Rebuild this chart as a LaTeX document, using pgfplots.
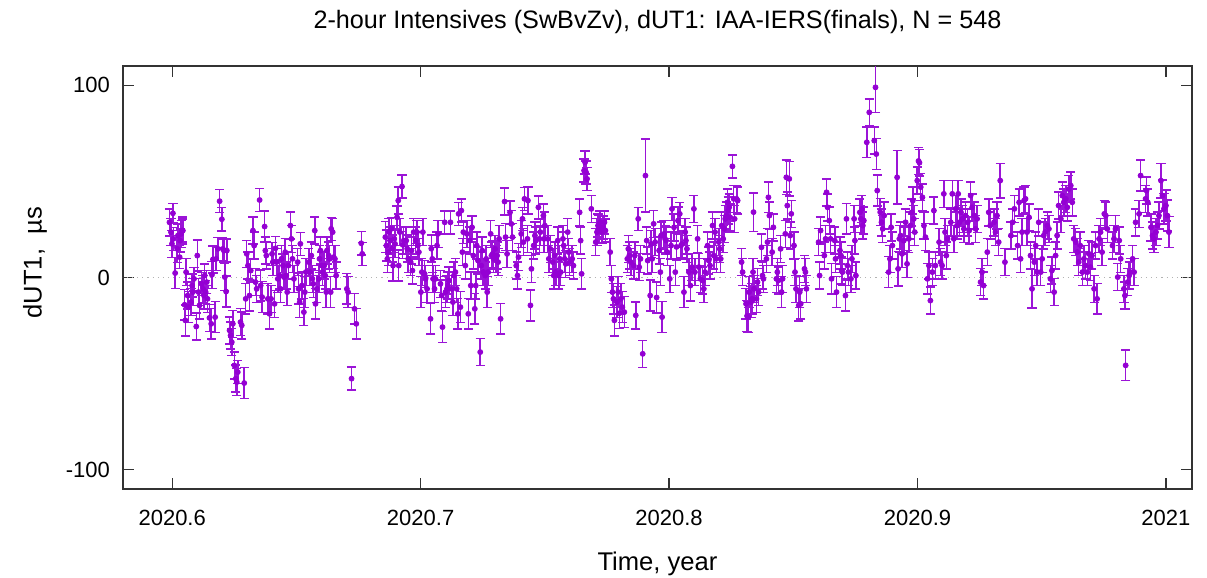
\documentclass[border=0pt]{standalone}
\usepackage{fontspec}
\setmainfont{Liberation Sans}
\usepackage{pgfplots}
\usepackage{pgfplotstable}
\pgfplotsset{compat=1.18}
\definecolor{dv}{RGB}{148,0,211}
\definecolor{dvb}{RGB}{155,20,215}

\pgfplotstableread{
x y e
2020.5989 28.7 7
2020.5995 23.6 7
2020.5999 17.5 7
2020.6003 33.4 5
2020.6005 20.1 6
2020.6012 2.3 8
2020.6020 14.9 7
2020.6023 21.8 6
2020.6030 10.6 6
2020.6032 19.2 6
2020.6036 22.7 7
2020.6040 24.4 6
2020.6043 24.4 7
2020.6050 -14.2 8
2020.6053 -22.3 8
2020.6056 2.8 7
2020.6062 -9.4 7
2020.6066 -15.4 8
2020.6076 -12.8 7
2020.6080 -4.2 6
2020.6083 -7.6 7
2020.6088 -0.7 6
2020.6097 -25.5 7
2020.6101 11.4 8
2020.6106 -7.6 7
2020.6110 -14.5 7
2020.6118 -3.3 6
2020.6124 -5.9 7
2020.6128 -9.4 7
2020.6131 1.0 6
2020.6135 -7.6 6
2020.6139 -2.4 6
2020.6142 -11.1 7
2020.6150 -21.0 7
2020.6157 -24.1 8
2020.6160 1.4 7
2020.6164 9.4 7
2020.6173 -20.6 8
2020.6177 9.7 6
2020.6184 14.9 6
2020.6191 39.7 6
2020.6200 30.3 6
2020.6204 14.9 6
2020.6208 14.0 6
2020.6212 0.2 7
2020.6217 -7.3 8
2020.6220 14.0 6
2020.6231 -27.5 7
2020.6235 -30.1 7
2020.6240 -33.6 7
2020.6244 -24.1 7
2020.6250 -45.7 7
2020.6256 -52.6 7
2020.6260 -54.4 7
2020.6264 -49.2 6
2020.6275 -23.2 7
2020.6280 -24.9 7
2020.6290 -54.9 8
2020.6296 -11.1 8
2020.6300 12.3 7
2020.6305 6.2 7
2020.6311 -9.4 8
2020.6316 3.6 6
2020.6325 24.4 7
2020.6330 16.6 7
2020.6335 -2.4 7
2020.6340 -5.9 7
2020.6352 40.3 6
2020.6356 -4.2 8
2020.6362 -10.2 8
2020.6372 26.5 8
2020.6375 14.0 7
2020.6379 11.4 7
2020.6385 -11.1 8
2020.6392 -18.9 8
2020.6398 -11.1 7
2020.6402 12.3 6
2020.6405 8.0 7
2020.6412 -13.7 7
2020.6416 15.2 6
2020.6420 8.0 7
2020.6425 -0.7 7
2020.6432 1.0 7
2020.6436 -5.9 7
2020.6440 9.7 7
2020.6446 6.2 6
2020.6450 0.2 6
2020.6455 13.2 7
2020.6459 1.0 7
2020.6463 -7.6 7
2020.6468 6.2 7
2020.6476 27.0 7
2020.6480 20.1 7
2020.6484 9.7 7
2020.6490 -0.7 7
2020.6505 8.0 7
2020.6509 -5.9 8
2020.6513 -12.8 8
2020.6516 17.5 6
2020.6522 -4.2 7
2020.6530 -18.0 7
2020.6534 -7.6 8
2020.6538 2.8 7
2020.6550 8.0 7
2020.6555 2.8 7
2020.6560 11.4 7
2020.6564 -0.7 7
2020.6568 -3.3 7
2020.6574 24.4 7
2020.6577 -13.7 8
2020.6582 -5.9 7
2020.6590 -0.7 7
2020.6593 9.7 7
2020.6597 14.0 7
2020.6602 6.2 7
2020.6605 2.8 7
2020.6612 6.2 7
2020.6616 1.0 7
2020.6620 -7.6 8
2020.6623 14.0 7
2020.6630 11.4 7
2020.6634 9.7 7
2020.6638 -7.6 8
2020.6640 25.3 6
2020.6646 23.6 7
2020.6650 10.6 6
2020.6655 9.7 7
2020.6660 1.0 7
2020.6703 -5.9 8
2020.6708 -7.6 8
2020.6722 -52.6 6
2020.6734 -16.3 8
2020.6741 -24.1 8
2020.6761 17.8 6
2020.6765 12.3 6
2020.6858 21.0 8
2020.6862 16.6 8
2020.6866 9.7 7
2020.6870 13.2 7
2020.6873 23.6 7
2020.6877 19.2 7
2020.6882 25.3 6
2020.6886 15.0 7
2020.6889 6.2 8
2020.6894 20.1 7
2020.6897 17.5 7
2020.6905 31.3 6
2020.6910 40.0 7
2020.6912 6.2 8
2020.6916 23.6 7
2020.6925 47.3 6
2020.6928 17.0 7
2020.6932 19.2 7
2020.6942 19.2 7
2020.6946 15.0 7
2020.6950 9.7 7
2020.6960 8.0 7
2020.6963 14.0 7
2020.6967 3.6 7
2020.6972 23.6 7
2020.6980 19.2 7
2020.6985 23.6 6
2020.6989 16.6 7
2020.6993 13.2 7
2020.7001 -7.6 8
2020.7005 2.8 7
2020.7009 23.6 7
2020.7016 1.9 7
2020.7020 -0.7 7
2020.7026 -5.9 7
2020.7040 -21.5 8
2020.7043 15.0 7
2020.7047 9.7 7
2020.7050 -0.7 7
2020.7056 -5.9 7
2020.7060 -0.7 7
2020.7066 16.6 7
2020.7070 22.7 7
2020.7080 -3.3 7
2020.7085 -9.4 8
2020.7088 -25.8 8
2020.7097 28.7 6
2020.7100 -7.6 8
2020.7106 -5.9 7
2020.7110 -4.2 7
2020.7114 -1.6 7
2020.7120 28.7 6
2020.7125 -5.9 7
2020.7130 -12.8 7
2020.7134 1.0 7
2020.7140 2.8 7
2020.7145 -5.9 7
2020.7150 -18.9 8
2020.7153 33.1 6
2020.7160 -15.4 8
2020.7164 34.8 6
2020.7168 13.2 7
2020.7172 23.6 6
2020.7180 6.2 7
2020.7186 22.7 7
2020.7192 -18.9 8
2020.7198 19.2 7
2020.7202 -4.2 7
2020.7207 26.1 6
2020.7212 11.4 7
2020.7218 -16.3 8
2020.7222 -4.2 7
2020.7226 16.6 7
2020.7231 8.8 7
2020.7240 -38.8 7
2020.7244 6.2 7
2020.7248 14.0 7
2020.7252 2.8 7
2020.7260 1.0 7
2020.7264 9.7 7
2020.7268 -7.6 8
2020.7272 2.8 7
2020.7282 22.7 7
2020.7285 11.4 7
2020.7290 12.3 7
2020.7294 9.7 7
2020.7300 14.9 7
2020.7304 9.7 7
2020.7308 11.4 7
2020.7312 8.0 7
2020.7316 20.1 7
2020.7322 -21.5 8
2020.7338 39.5 7
2020.7342 21.0 7
2020.7348 12.3 7
2020.7360 33.9 6
2020.7365 27.9 7
2020.7370 21.0 7
2020.7385 6.2 7
2020.7390 1.0 7
2020.7394 10.6 7
2020.7405 22.7 7
2020.7410 30.5 6
2020.7414 18.4 7
2020.7418 40.9 6
2020.7430 20.1 7
2020.7432 40.0 7
2020.7442 -14.5 8
2020.7446 4.5 7
2020.7455 16.6 7
2020.7460 21.8 7
2020.7464 19.2 7
2020.7474 36.5 6
2020.7478 20.1 7
2020.7482 23.6 7
2020.7494 32.2 6
2020.7497 20.1 7
2020.7500 27.0 7
2020.7512 20.1 7
2020.7516 9.7 7
2020.7522 14.9 7
2020.7532 8.0 7
2020.7536 1.0 7
2020.7540 11.4 7
2020.7544 2.8 7
2020.7552 19.2 7
2020.7556 1.0 7
2020.7560 9.7 7
2020.7564 2.8 7
2020.7573 20.1 7
2020.7576 16.6 7
2020.7580 9.7 7
2020.7584 7.1 7
2020.7592 23.6 7
2020.7596 13.2 7
2020.7600 8.0 7
2020.7610 9.7 7
2020.7615 6.2 7
2020.7640 33.9 7
2020.7644 19.2 7
2020.7648 1.9 8
2020.7658 55.6 6
2020.7662 59.9 6
2020.7666 54.7 6
2020.7670 51.3 6
2020.7687 35.7 7
2020.7705 18.4 7
2020.7710 23.6 7
2020.7714 27.0 6
2020.7718 25.3 7
2020.7722 28.7 6
2020.7730 23.6 6
2020.7735 26.1 6
2020.7740 28.7 6
2020.7744 24.4 6
2020.7763 13.2 7
2020.7768 -0.7 7
2020.7772 -7.6 8
2020.7776 -11.1 8
2020.7780 -22.3 8
2020.7790 -12.8 8
2020.7795 -7.6 8
2020.7800 -18.6 8
2020.7806 -11.1 8
2020.7812 -15.4 8
2020.7820 -18.0 8
2020.7832 9.7 7
2020.7836 14.9 7
2020.7840 11.4 7
2020.7846 8.0 7
2020.7858 6.2 7
2020.7862 11.4 7
2020.7866 -19.7 7
2020.7876 30.5 6
2020.7880 5.4 7
2020.7885 9.7 7
2020.7894 -39.7 7
2020.7905 53.0 19
2020.7910 19.2 7
2020.7914 8.8 7
2020.7924 -9.4 8
2020.7928 17.5 7
2020.7932 9.7 7
2020.7938 27.9 7
2020.7944 18.4 7
2020.7950 -10.4 8
2020.7960 14.0 7
2020.7965 2.8 7
2020.7968 21.8 7
2020.7972 -20.6 8
2020.7980 22.7 7
2020.7984 20.1 7
2020.7988 19.2 7
2020.7993 13.2 7
2020.8003 -0.7 7
2020.8008 16.6 7
2020.8012 35.7 6
2020.8020 26.1 7
2020.8025 2.8 7
2020.8030 15.9 7
2020.8036 29.6 7
2020.8043 33.1 6
2020.8048 16.6 7
2020.8052 17.5 7
2020.8060 -7.6 8
2020.8065 23.6 7
2020.8068 19.2 7
2020.8072 14.9 7
2020.8080 2.8 7
2020.8086 -4.2 8
2020.8092 5.4 7
2020.8100 35.7 7
2020.8104 2.8 7
2020.8115 20.1 7
2020.8120 5.4 7
2020.8126 -0.7 7
2020.8135 -1.6 7
2020.8140 -5.9 7
2020.8145 2.8 7
2020.8155 16.6 7
2020.8160 8.8 7
2020.8165 6.2 7
2020.8175 27.0 7
2020.8180 11.4 7
2020.8185 23.6 7
2020.8190 9.7 7
2020.8200 18.4 7
2020.8204 14.9 7
2020.8208 9.7 7
2020.8212 27.0 7
2020.8218 20.1 7
2020.8222 25.3 7
2020.8226 30.5 7
2020.8230 32.2 7
2020.8235 39.1 7
2020.8238 34.8 7
2020.8242 36.5 7
2020.8246 31.3 7
2020.8255 57.8 6
2020.8260 40.9 7
2020.8264 30.5 7
2020.8272 40.9 7
2020.8276 40.0 7
2020.8292 8.0 7
2020.8296 2.8 7
2020.8310 -13.7 8
2020.8314 -20.0 8
2020.8318 -20.6 8
2020.8322 -7.6 8
2020.8330 -12.8 8
2020.8334 -11.1 8
2020.8338 2.8 7
2020.8340 34.0 10
2020.8342 -5.9 7
2020.8352 -11.1 7
2020.8356 -2.4 7
2020.8360 -7.6 7
2020.8372 15.7 7
2020.8376 1.0 7
2020.8380 -0.7 7
2020.8392 9.7 7
2020.8396 18.4 7
2020.8400 41.7 8
2020.8404 32.2 7
2020.8415 13.2 7
2020.8420 26.1 7
2020.8432 -0.7 7
2020.8436 2.8 7
2020.8440 -1.6 7
2020.8449 14.9 7
2020.8453 -7.6 8
2020.8457 -0.7 7
2020.8468 22.7 7
2020.8472 52.1 9
2020.8476 37.4 7
2020.8484 51.3 9
2020.8488 21.8 7
2020.8492 33.1 7
2020.8503 16.6 7
2020.8507 2.8 7
2020.8511 -5.9 7
2020.8522 -14.5 8
2020.8526 -7.6 8
2020.8530 -13.7 8
2020.8545 4.5 7
2020.8549 2.8 7
2020.8553 -5.9 7
2020.8602 18.4 7
2020.8606 1.0 7
2020.8610 24.4 7
2020.8625 11.4 7
2020.8630 20.1 7
2020.8634 44.3 7
2020.8638 36.5 7
2020.8645 29.6 7
2020.8650 20.1 7
2020.8654 -0.7 8
2020.8667 19.2 7
2020.8670 9.7 7
2020.8674 -7.6 8
2020.8688 14.0 7
2020.8692 11.4 7
2020.8695 3.6 7
2020.8698 2.8 7
2020.8710 -9.4 8
2020.8714 30.5 8
2020.8718 6.2 7
2020.8722 2.8 7
2020.8732 -0.7 7
2020.8736 9.7 7
2020.8745 30.5 7
2020.8748 19.2 7
2020.8752 1.0 7
2020.8768 33.9 7
2020.8772 30.5 7
2020.8776 35.7 7
2020.8780 27.0 7
2020.8784 29.6 7
2020.8796 70.3 8
2020.8806 85.9 7
2020.8826 71.2 7
2020.8831 98.9 13
2020.8834 64.2 8
2020.8838 45.2 8
2020.8850 34.0 7
2020.8855 28.7 7
2020.8860 25.3 7
2020.8866 32.2 7
2020.8884 2.8 8
2020.8889 9.7 7
2020.8894 26.1 7
2020.8899 16.6 7
2020.8918 52.1 14
2020.8922 4.5 9
2020.8927 20.1 7
2020.8932 21.8 7
2020.8938 12.3 7
2020.8945 19.2 7
2020.8952 28.7 7
2020.8958 7.1 7
2020.8965 20.1 7
2020.8972 27.0 7
2020.8977 33.9 7
2020.8981 40.0 7
2020.8985 30.5 7
2020.8989 23.6 7
2020.8999 50.4 7
2020.9004 60.6 7
2020.9008 59.7 7
2020.9013 47.0 7
2020.9020 41.7 7
2020.9026 27.0 7
2020.9032 21.0 7
2020.9040 -0.7 8
2020.9046 6.2 7
2020.9052 -12.0 7
2020.9060 2.8 7
2020.9066 34.8 7
2020.9072 6.2 7
2020.9087 18.4 7
2020.9093 8.0 7
2020.9099 6.2 7
2020.9106 43.5 7
2020.9111 23.6 7
2020.9116 11.4 7
2020.9121 20.1 7
2020.9134 28.7 7
2020.9140 43.5 7
2020.9146 20.1 7
2020.9154 35.7 7
2020.9159 27.0 7
2020.9164 43.5 7
2020.9169 28.7 7
2020.9175 33.9 7
2020.9181 30.5 7
2020.9187 25.3 7
2020.9193 32.2 7
2020.9202 28.7 7
2020.9208 24.4 7
2020.9214 42.6 7
2020.9220 36.5 7
2020.9228 32.2 7
2020.9234 25.3 7
2020.9240 30.5 7
2020.9254 -2.4 7
2020.9260 2.8 7
2020.9266 -4.2 7
2020.9281 13.2 7
2020.9287 33.9 7
2020.9293 27.0 7
2020.9308 28.7 7
2020.9314 23.6 7
2020.9320 32.2 7
2020.9327 18.4 7
2020.9333 50.4 9
2020.9352 8.0 7
2020.9376 21.8 7
2020.9383 28.7 7
2020.9390 35.7 7
2020.9403 16.6 7
2020.9409 39.1 7
2020.9415 9.7 7
2020.9421 23.6 7
2020.9429 40.0 7
2020.9435 40.9 7
2020.9441 23.6 7
2020.9449 31.3 7
2020.9455 11.4 7
2020.9461 -5.9 10
2020.9470 8.0 7
2020.9476 16.6 7
2020.9482 2.8 7
2020.9488 28.7 7
2020.9496 2.8 7
2020.9502 9.7 7
2020.9508 21.8 7
2020.9514 23.6 7
2020.9523 27.0 7
2020.9529 25.3 7
2020.9535 -0.7 7
2020.9541 3.6 7
2020.9550 -7.6 7
2020.9556 11.4 7
2020.9562 21.8 7
2020.9568 37.4 7
2020.9577 30.5 7
2020.9583 42.6 7
2020.9589 39.1 7
2020.9597 40.9 7
2020.9603 36.5 7
2020.9609 46.0 7
2020.9617 47.8 7
2020.9623 39.1 7
2020.9629 20.1 7
2020.9637 18.4 7
2020.9643 13.2 7
2020.9649 8.0 7
2020.9655 16.6 7
2020.9664 2.8 7
2020.9670 9.7 7
2020.9676 6.2 7
2020.9684 2.8 7
2020.9690 12.3 7
2020.9696 5.4 7
2020.9702 11.4 7
2020.9711 -5.9 7
2020.9717 16.6 7
2020.9723 -11.1 8
2020.9731 20.1 7
2020.9737 23.6 7
2020.9743 13.2 7
2020.9752 33.1 7
2020.9758 32.2 7
2020.9764 25.3 7
2020.9785 16.6 7
2020.9791 20.1 7
2020.9797 25.3 7
2020.9806 0.2 7
2020.9812 19.2 7
2020.9818 9.7 7
2020.9831 -5.9 7
2020.9835 -9.4 7
2020.9838 -45.7 8
2020.9846 -2.4 7
2020.9852 1.0 7
2020.9858 2.8 7
2020.9866 9.7 7
2020.9872 2.8 7
2020.9878 28.7 7
2020.9892 33.1 7
2020.9898 53.0 8
2020.9918 40.9 7
2020.9922 45.2 7
2020.9927 39.1 7
2020.9940 26.1 7
2020.9946 21.8 7
2020.9952 20.1 7
2020.9960 23.6 7
2020.9966 27.0 7
2020.9972 32.2 7
2020.9980 50.4 9
2020.9986 42.6 8
2020.9992 35.7 8
2021.0000 37.4 8
2021.0006 32.2 8
2021.0012 23.6 8
}\dataA

\begin{document}
\begin{tikzpicture}
\begin{axis}[
  at={(0,0)}, anchor=south west,
  scale only axis,
  width=534.5pt, height=211.5pt,
  xmin=2020.5802, xmax=2021.0105,
  ymin=-110, ymax=110,
  axis line style={black!80, line width=0.6pt},
  tick align=inside, tick pos=both,
  major tick length=5.5pt,
  tick style={black!80, line width=0.6pt},
  xtick={2020.6,2020.7,2020.8,2020.9,2021},
  xticklabels={2020.6,2020.7,2020.8,2020.9,2021},
  ytick={-100,0,100},
  yticklabels={-100,0,100},
  ticklabel style={font=\fontsize{11}{13}\selectfont},
  xticklabel style={yshift=-7pt},
  yticklabel style={xshift=-3pt},
  title={2-hour Intensives (SwBvZv), dUT1: IAA-IERS(finals), N = 548},
  title style={at={(axis description cs:0.5,1.076)}, anchor=center, font=\fontsize{12.6}{15}\selectfont},
  xlabel={Time, year},
  xlabel style={at={(axis description cs:0.5,-0.177)}, anchor=center, font=\fontsize{12.8}{15}\selectfont},
  ylabel={dUT1,\ \ µs},
  ylabel style={at={(axis description cs:-0.0823,0.535)}, anchor=center, font=\fontsize{12.8}{15}\selectfont},
  clip=true,
]
\addplot[gray!60, dotted, line width=0.6pt, forget plot] coordinates {(2020.5,0) (2021.1,0)};
\addplot[only marks, mark=*, mark size=1.25pt, color=dv,
  error bars/.cd, y dir=both, y explicit,
  error bar style={line width=0.75pt, color=dvb},
  error mark=-,
  error mark options={rotate=90, mark size=2.3pt, line width=0.75pt, color=dvb}]
  table[x=x, y=y, y error=e] {\dataA};
\end{axis}
\pgfresetboundingbox
\path (-61.5pt,-44.5pt) rectangle (542pt,244.5pt);
\end{tikzpicture}
\end{document}
